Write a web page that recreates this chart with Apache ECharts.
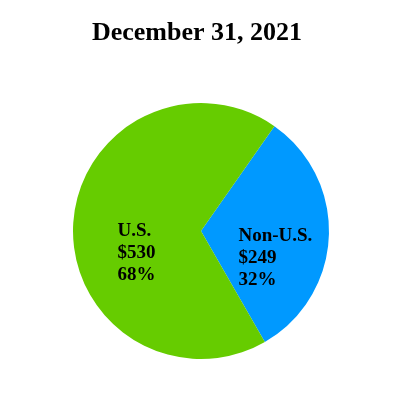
<!DOCTYPE html>
<html>
<head>
<meta charset="utf-8">
<script src="https://cdn.jsdelivr.net/npm/echarts@6/dist/echarts.min.js"></script>
<style>
  html, body { margin: 0; padding: 0; background: #fff; }
  #chart { width: 400px; height: 400px; }
</style>
</head>
<body>
<div id="chart"></div>
<script>
// regions and amounts ($) at December 31, 2021
const regions = ['Non-U.S.', 'U.S.']
const amounts = [249, 530]
const shares = ['32%', '68%']
const colors = ['#0099FF', '#66CC00']

const chart = echarts.init(document.getElementById('chart'))

// label placement tweaks per slice
const labelOffsets = [[8, 24], [21, 25]]

const data = regions.map((name, i) => ({
  name,
  value: amounts[i],
  itemStyle: { color: colors[i] },
  label: { offset: labelOffsets[i] }
}))

chart.setOption({
  backgroundColor: '#fff',
  animation: false,
  title: {
    text: 'December 31, 2021',
    left: 192,
    textAlign: 'center',
    top: 15,
    textStyle: { fontFamily: 'Liberation Serif', fontSize: 26, fontWeight: 'bold', color: '#000' }
  },
  series: [{
    type: 'pie',
    center: [201, 231],
    radius: [0, 128],
    startAngle: 55,
    clockwise: true,
    silent: true,
    label: {
      show: true,
      position: 'inside',
      // fixed-width rich blocks so lines sit flush left
      formatter: p => ['{a|' + p.name + '}', '{a|$' + p.value + '}', '{a|' + shares[p.dataIndex] + '}'].join('\n'),
      rich: {
        a: {
          width: 75,
          align: 'left',
          fontFamily: 'Liberation Serif',
          fontSize: 19,
          fontWeight: 'bold',
          lineHeight: 22,
          color: '#000'
        }
      }
    },
    labelLine: { show: false },
    data
  }]
})
</script>
</body>
</html>
